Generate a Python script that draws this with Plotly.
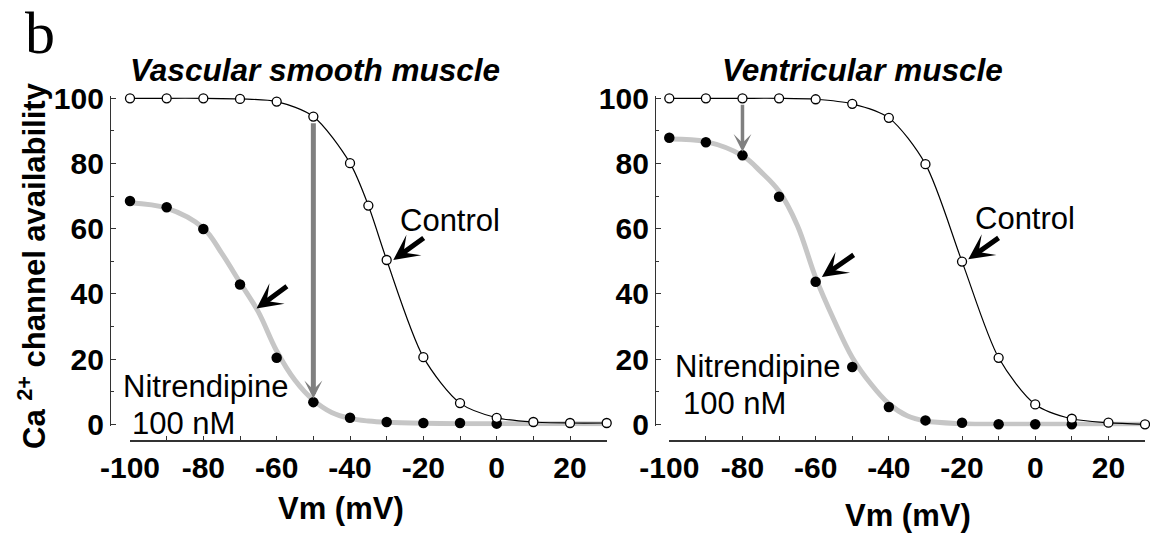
import plotly.graph_objects as go

# ---------------- data ----------------
# Panel 1: Vascular smooth muscle
vsm_ctrl_x = [-100, -90, -80, -70, -60, -50, -40, -35, -30, -20, -10, 0, 10, 20, 30]
vsm_ctrl_y = [100, 100, 100, 99.8, 99, 94.4, 80.1, 67.1, 50.4, 20.6, 6.5, 2.0, 0.7, 0.4, 0.4]
vsm_nit_x = [-100, -90, -80, -70, -60, -50, -40, -30, -20, -10, 0]
vsm_nit_y = [68.5, 66.6, 59.9, 42.9, 20.4, 6.8, 2.0, 0.7, 0.4, 0.4, 0.2]
vsm_fit_x = [-100, -90, -80, -75, -70, -65, -60, -55, -50, -45, -40, -35, -30, -20, -10, 0, 10, 20, 31]
vsm_fit_y = [68, 66.3, 60.2, 52.5, 43.5, 34.5, 22.5, 13.5, 7.4, 3.6, 1.8, 1.0, 0.6, 0.3, 0.2, 0.2, 0.2, 0.2, 0.1]

# Panel 2: Ventricular muscle
ven_ctrl_x = [-100, -90, -80, -70, -60, -50, -40, -30, -20, -10, 0, 10, 20, 30]
ven_ctrl_y = [100, 100, 100, 100, 99.7, 98.3, 94.0, 79.8, 49.9, 20.4, 6.1, 1.7, 0.5, 0.0]
ven_nit_x = [-100, -90, -80, -70, -60, -50, -40, -30, -20, -10, 0, 10]
ven_nit_y = [87.9, 86.5, 82.5, 69.8, 43.7, 17.6, 5.3, 1.2, 0.5, 0.0, 0.0, 0.0]
ven_fit_x = [-100, -90, -80, -75, -70, -65, -60, -55, -50, -45, -40, -35, -30, -20, -10, 0, 10, 20, 30]
ven_fit_y = [87.5, 86.7, 82.4, 77.5, 71.5, 61, 45, 32, 20.5, 12.5, 6.3, 2.6, 1.0, 0.2, 0, 0, 0, 0, 0]

x_tickvals = [-100, -80, -60, -40, -20, 0, 20]
x_ticktext = ["-100", "-80", "-60", "-40", "-20", "0", "20"]
y_tickvals = [0, 20, 40, 60, 80, 100]
y_ticktext = ["0", "20", "40", "60", "80", "100"]

panel_titles = ["Vascular smooth muscle", "Ventricular muscle"]
x_title = "Vm (mV)"
y_title = "Ca <sup>2+</sup> channel availability"

# ---------------- figure ----------------
W, H = 1150, 534
FONT = "Liberation Sans, Arial, sans-serif"
AXC = "#333333"


def P(px, py):
    return px / W, 1 - py / H


fig = go.Figure()

GRAY = "#c6c6c6"
for xs, ys, fx, fy, nx, ny, xa, ya in [
    (vsm_ctrl_x, vsm_ctrl_y, vsm_fit_x, vsm_fit_y, vsm_nit_x, vsm_nit_y, "x", "y"),
    (ven_ctrl_x, ven_ctrl_y, ven_fit_x, ven_fit_y, ven_nit_x, ven_nit_y, "x2", "y2"),
]:
    fig.add_trace(go.Scatter(x=fx, y=fy, mode="lines", xaxis=xa, yaxis=ya,
                             line=dict(color=GRAY, width=5, shape="spline", smoothing=1.0),
                             hoverinfo="skip"))
    fig.add_trace(go.Scatter(x=nx, y=ny, mode="markers", xaxis=xa, yaxis=ya, cliponaxis=False,
                             marker=dict(color="black", size=10.5, line=dict(width=0))))
    fig.add_trace(go.Scatter(x=xs, y=ys, mode="lines+markers", xaxis=xa, yaxis=ya, cliponaxis=False,
                             line=dict(color="black", width=1.2, shape="spline", smoothing=0.8),
                             marker=dict(color="white", size=9, line=dict(color="black", width=1.3))))

# axis geometry (pixels measured from reference)
y0px, y100px = 424.3, 98.3
ppu = (y0px - y100px) / 100.0
yr = [-0.6, 100.6]
ybot = y0px + (0 - yr[0]) * ppu
ytop = y100px - (yr[1] - 100) * ppu
ydom = [1 - ybot / H, 1 - ytop / H]
xaxis_line_px = 441

common_x = dict(range=[-100, 30], showline=True, linecolor=AXC, linewidth=1.5,
                ticks="inside", ticklen=4, tickwidth=1.2, tickcolor=AXC,
                tickmode="array", tickvals=x_tickvals, ticktext=x_ticktext,
                minor=dict(ticks="inside", dtick=10, tick0=-100, ticklen=4, tickwidth=1.2, tickcolor=AXC),
                showgrid=False, zeroline=False, anchor="free", position=1 - xaxis_line_px / H,
                tickfont=dict(family=FONT, size=30, color="black", weight="bold"))
common_y = dict(range=yr, domain=ydom, showline=True, linecolor=AXC, linewidth=1.2,
                ticks="inside", ticklen=5, tickwidth=1.2, tickcolor=AXC,
                tickmode="array", tickvals=y_tickvals, ticktext=y_ticktext,
                minor=dict(ticks="inside", dtick=10, tick0=0, ticklen=3, tickwidth=1, tickcolor=AXC),
                showgrid=False, zeroline=False, anchor="free",
                tickfont=dict(family=FONT, size=30, color="black", weight="bold"))

fig.update_layout(
    width=W, height=H, margin=dict(l=0, r=0, t=0, b=0, autoexpand=False),
    paper_bgcolor="white", plot_bgcolor="white", showlegend=False,
    xaxis=dict(common_x, domain=[130 / W, 606.7 / W]),
    xaxis2=dict(common_x, domain=[669.3 / W, 1145 / W]),
    yaxis=dict(common_y, position=110 / W),
    yaxis2=dict(common_y, position=655 / W),
)

ann = []


def text(px, py, s, size=30, bold=False, italic=False, family=FONT, angle=0):
    x, y = P(px, py)
    ann.append(dict(x=x, y=y, xref="paper", yref="paper", text=s, showarrow=False,
                    xanchor="center", yanchor="middle", textangle=angle,
                    font=dict(family=family, size=size, color="black",
                              weight="bold" if bold else "normal",
                              style="italic" if italic else "normal")))


text(40, 33, "b", size=60, family="Liberation Serif, Times New Roman, serif")
text(315, 70, panel_titles[0], size=31.5, bold=True, italic=True)
text(862, 70, panel_titles[1], size=31.5, bold=True, italic=True)
text(32, 266, y_title, size=31, bold=True, angle=-90)
text(341, 508.5, x_title, size=31, bold=True)
text(908, 515, x_title, size=31, bold=True)
text(450, 220, "Control", size=31)
text(1025, 218, "Control", size=31)
text(205, 386, "Nitrendipine", size=31)
text(183, 423, "100 nM", size=31)
text(757, 366, "Nitrendipine", size=31)
text(734, 403, "100 nM", size=31)


def arrow(xa, ya, hx, hy, tx, ty, color, width, size, head=3):
    ann.append(dict(x=hx, y=hy, ax=tx, ay=ty, xref=xa, yref=ya, axref=xa, ayref=ya,
                    text="", showarrow=True, arrowhead=head, arrowsize=size,
                    arrowwidth=width, arrowcolor=color, standoff=0))


# shift arrows (control -> nitrendipine)
arrow("x", "y", -50, 7.9, -50, 92.8, "#808080", 5, 0.6)
arrow("x2", "y2", -80, 83.6, -80, 98.5, "#808080", 3.5, 0.85)
# pointer arrows
arrow("x", "y", -28.2, 50.4, -19.5, 57.5, "black", 5, 0.85)
arrow("x", "y", -65.5, 35.5, -56.8, 42.7, "black", 5, 0.85)
arrow("x2", "y2", -18.3, 50.6, -9.6, 57.5, "black", 5, 0.85)
arrow("x2", "y2", -58.3, 45.2, -49.2, 52.3, "black", 5, 0.85)

fig.update_layout(annotations=ann)
fig.write_html("out.html",
               config={"displayModeBar": False},
               post_script="document.body.style.margin='0';document.body.style.padding='0';"
                           "document.body.style.overflow='hidden';")
